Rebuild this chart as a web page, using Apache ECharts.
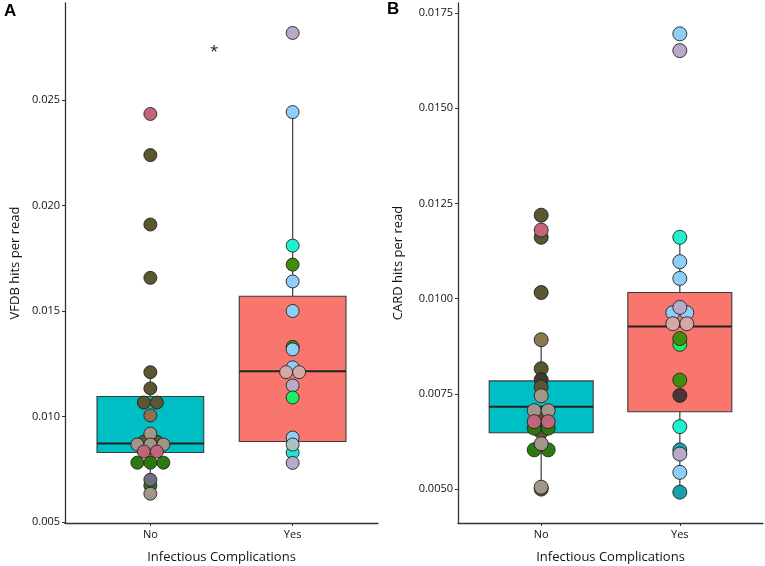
<!DOCTYPE html>
<html><head><meta charset="utf-8">
<script src="https://cdn.jsdelivr.net/npm/echarts@6/dist/echarts.min.js"></script>
<style>html,body{margin:0;padding:0;background:#fff}#c{width:765px;height:566px}</style>
</head><body><div id="c"></div>
<script>
const categories = ['No', 'Yes'];
const boxFill = ['#00BFC4', '#F8766D'];
// [lower whisker, Q1, median, Q3, upper whisker]
const vfdbBox = [[0.00634, 0.00829, 0.00872, 0.01095, 0.0121], [0.0078, 0.00881, 0.01214, 0.0157, 0.02443]];
const cardBox = [[0.0050, 0.00648, 0.00716, 0.00784, 0.00892], [0.00492, 0.00703, 0.00927, 0.01016, 0.01161]];
const vfdbTicks = [0.005, 0.010, 0.015, 0.020, 0.025];
const cardTicks = [0.0050, 0.0075, 0.0100, 0.0125, 0.0150, 0.0175];

// sample values and sample-type keys
const vfdbNoVals = [0.02434, 0.02239, 0.0191, 0.01657, 0.0121, 0.01133, 0.01066, 0.01066, 0.01005, 0.0088, 0.0088, 0.00919, 0.00867, 0.00867, 0.00867, 0.00834, 0.00834, 0.00781, 0.00781, 0.00781, 0.00672, 0.0070, 0.00634];
const vfdbNoKeys = ['pk', 'ol', 'ol', 'ol', 'ol', 'ol', 'ol', 'ol', 'br', 'ol', 'ol', 'gb', 'gb', 'gb', 'gb', 'pk', 'pk', 'dg', 'dg', 'dg', 'dg', 'sl', 'gb'];
const vfdbYesVals = [0.02818, 0.02443, 0.0181, 0.0172, 0.0164, 0.0150, 0.0133, 0.01318, 0.01233, 0.0121, 0.0121, 0.01147, 0.0109, 0.0090, 0.00829, 0.00867, 0.0078];
const vfdbYesKeys = ['lv', 'lb', 'aq', 'gr', 'lb', 'lb', 'gr', 'lb', 'lb', 'bg', 'bg', 'lv', 'bgr', 'lb', 'cy', 'gt', 'lv'];
const cardNoVals = [0.01219, 0.01161, 0.0118, 0.01016, 0.00892, 0.00816, 0.00787, 0.00768, 0.0069, 0.0065, 0.0066, 0.0066, 0.00745, 0.00706, 0.00706, 0.00677, 0.00677, 0.00603, 0.00603, 0.00619, 0.0050, 0.00505];
const cardNoKeys = ['ol', 'ol', 'pk', 'ol', 'tn', 'ol', 'dk', 'ol', 'ol', 'ol', 'dg', 'dg', 'gb', 'gb', 'gb', 'pk', 'pk', 'dg', 'dg', 'gb', 'ol', 'gb'];
const cardYesVals = [0.01695, 0.01651, 0.01161, 0.01097, 0.01053, 0.00963, 0.00963, 0.00977, 0.00934, 0.00934, 0.0088, 0.00895, 0.00786, 0.00746, 0.00664, 0.00603, 0.00592, 0.00544, 0.00492];
const cardYesKeys = ['lb', 'lv', 'aq', 'lb', 'lb', 'lb', 'lb', 'lv', 'bg', 'bg', 'bgr', 'gr', 'gr', 'db', 'aq', 'te', 'lv', 'lb', 'te'];

const palette = {
  pk: '#c0657a', ol: '#5a5630', br: '#8d7050', gb: '#a39689', dg: '#2c7a0e', sl: '#6e6e80',
  lv: '#b9a9c8', lb: '#8dcff8', aq: '#1ff2cf', gr: '#3e8f0a', bg: '#d2a9a5', bgr: '#22ec66',
  gt: '#a9c4c3', cy: '#1ee6d6', tn: '#8c7a4e', dk: '#3c3c32', db: '#4a3435', te: '#15a2aa'
};

function dots(vals, keys, cat, step) {
  const counts = {}, idx = {};
  vals.forEach(v => counts[v] = (counts[v] || 0) + 1);
  return vals.map((v, i) => {
    const n = counts[v]; const k = idx[v] = (idx[v] === undefined ? 0 : idx[v] + 1);
    return { value: [cat + (k - (n - 1) / 2) * step, v], itemStyle: { color: palette[keys[i]] } };
  });
}

function boxSeries(stats, xi, yi) {
  return {
    type: 'custom', xAxisIndex: xi, yAxisIndex: yi, z: 1,
    data: stats.map((s, i) => [i + 1].concat(s)),
    renderItem: function (params, api) {
      const x = api.value(0), lo = api.value(1), q1 = api.value(2), md = api.value(3), q3 = api.value(4), hi = api.value(5);
      const pLo = api.coord([x, lo]), pQ1 = api.coord([x, q1]), pQ3 = api.coord([x, q3]), pHi = api.coord([x, hi]);
      const l = api.coord([x - 0.375, md]), r = api.coord([x + 0.375, md]);
      const col = boxFill[params.dataIndex];
      return { type: 'group', children: [
        { type: 'line', shape: { x1: pHi[0], y1: pHi[1], x2: pQ3[0], y2: pQ3[1] }, style: { stroke: '#4a4a4a', lineWidth: 1.3 } },
        { type: 'line', shape: { x1: pLo[0], y1: pLo[1], x2: pQ1[0], y2: pQ1[1] }, style: { stroke: '#4a4a4a', lineWidth: 1.3 } },
        { type: 'rect', shape: { x: l[0], y: pQ3[1], width: r[0] - l[0], height: pQ1[1] - pQ3[1] }, style: { fill: col, stroke: '#3a3a3a', lineWidth: 1.1 } },
        { type: 'line', shape: { x1: l[0], y1: l[1], x2: r[0], y2: r[1] }, style: { stroke: '#222', lineWidth: 2 } }
      ] };
    }
  };
}

const font = 'Open Sans';
function xAx(gi) {
  return {
    type: 'value', gridIndex: gi, min: 0.4, max: 2.6,
    name: 'Infectious Complications', nameLocation: 'middle', nameGap: 28,
    nameTextStyle: { fontFamily: font, fontSize: 13, color: '#111' },
    axisLine: { lineStyle: { color: '#333', width: 1.3 } },
    axisTick: { customValues: [1, 2], length: 3, lineStyle: { color: '#333' } },
    axisLabel: { customValues: [1, 2], formatter: v => categories[Math.round(v) - 1], fontFamily: font, fontSize: 11, color: '#111', margin: 6 },
    splitLine: { show: false }
  };
}
function yAx(gi, min, max, ticks, dec, name, gap) {
  return {
    type: 'value', gridIndex: gi, min: min, max: max,
    name: name, nameLocation: 'middle', nameGap: gap,
    nameTextStyle: { fontFamily: font, fontSize: 13, color: '#111' },
    axisLine: { show: true, lineStyle: { color: '#333', width: 1.3 } },
    axisTick: { show: true, customValues: ticks, length: 3, lineStyle: { color: '#333' } },
    axisLabel: { customValues: ticks, formatter: v => v.toFixed(dec), fontFamily: font, fontSize: 11, color: '#111', margin: 5 },
    splitLine: { show: false }
  };
}

const chart = echarts.init(document.getElementById('c'));
chart.setOption({
  animation: false,
  backgroundColor: '#fff',
  grid: [
    { left: 65, top: 3, right: 387, bottom: 43, outerBoundsMode: 'none', containLabel: false },
    { left: 458, top: 3, right: 2, bottom: 43, outerBoundsMode: 'none', containLabel: false }
  ],
  xAxis: [xAx(0), xAx(1)],
  yAxis: [
    yAx(0, 0.00495, 0.0296, vfdbTicks, 3, 'VFDB hits per read', 43),
    yAx(1, 0.00411, 0.01776, cardTicks, 4, 'CARD hits per read', 53)
  ],
  graphic: [
    { type: 'text', left: 4, top: 3, style: { text: 'A', font: 'bold 17px Arial', fill: '#000' } },
    { type: 'text', left: 387, top: 1, style: { text: 'B', font: 'bold 17px Arial', fill: '#000' } },
    { type: 'text', left: 210, top: 44, style: { text: '*', font: '15px "Open Sans"', fill: '#111' } }
  ],
  series: [
    boxSeries(vfdbBox, 0, 0),
    boxSeries(cardBox, 1, 1),
    { type: 'scatter', xAxisIndex: 0, yAxisIndex: 0, z: 3, symbolSize: 13, itemStyle: { borderColor: '#222', borderWidth: 0.9, opacity: 1 },
      data: dots(vfdbNoVals, vfdbNoKeys, 1, 0.0915).concat(dots(vfdbYesVals, vfdbYesKeys, 2, 0.0915)) },
    { type: 'scatter', xAxisIndex: 1, yAxisIndex: 1, z: 3, symbolSize: 14, itemStyle: { borderColor: '#222', borderWidth: 0.9, opacity: 1 },
      data: dots(cardNoVals, cardNoKeys, 1, 0.101).concat(dots(cardYesVals, cardYesKeys, 2, 0.101)) }
  ]
});
</script></body></html>
